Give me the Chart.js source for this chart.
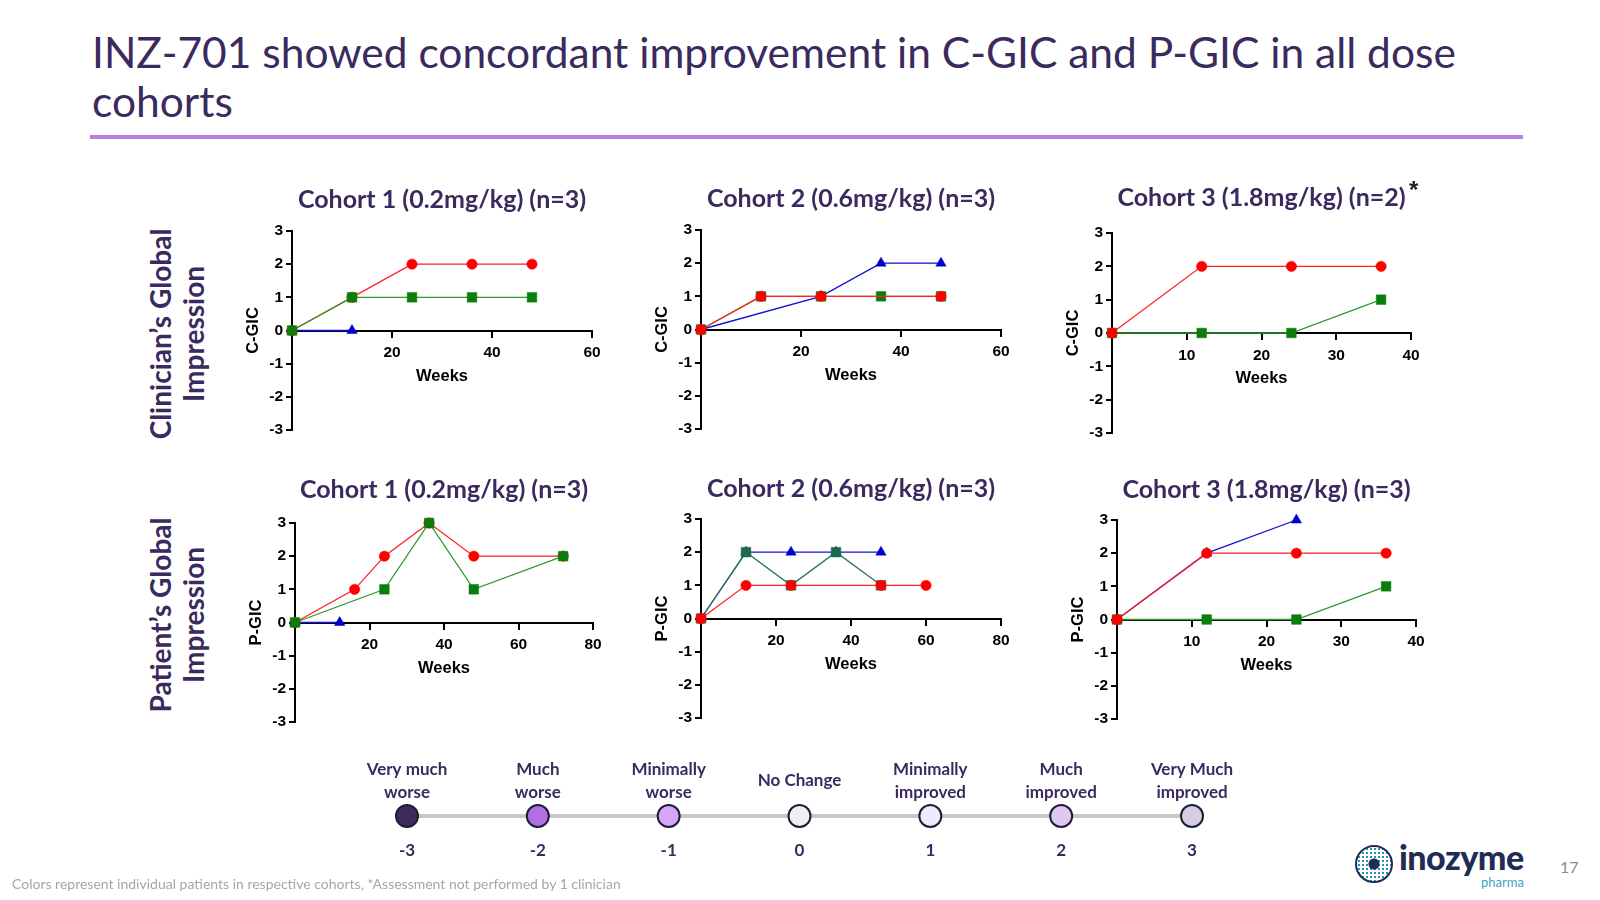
<!DOCTYPE html>
<html>
<head>
<meta charset="utf-8">
<script src="https://cdn.jsdelivr.net/npm/chart.js@4.4.0/dist/chart.umd.min.js"></script>
<style>
html, body { margin: 0; padding: 0; background: #ffffff; }
body { width: 1600px; height: 900px; position: relative; overflow: hidden; font-family: Lato, "Open Sans", sans-serif; }
#mainTitle { position: absolute; left: 92px; top: 27px; font-size: 42.5px; line-height: 49px; color: #3B2A5E; white-space: nowrap; }
#rule { position: absolute; left: 90px; top: 135px; width: 1433px; height: 4px; background: #B77FE2; }
.rowlab { position: absolute; width: 260px; text-align: center; font-weight: bold; font-size: 28px; line-height: 33px; color: #3B2A5E; transform: translate(-50%, -50%) rotate(-90deg); white-space: nowrap; }
canvas { position: absolute; }
#star { position: absolute; left: 1409px; top: 176px; font-size: 24px; font-weight: bold; color: #222; font-family: "Liberation Sans", sans-serif; }
#foot { position: absolute; left: 12px; top: 875px; font-size: 14px; color: #A6A6A6; white-space: nowrap; }
#page { position: absolute; left: 1560px; top: 857px; font-size: 16px; color: #8A8A8A; }
#logoIcon { position: absolute; left: 1355px; top: 845px; width: 38px; height: 38px; border-radius: 50%; border: 2px solid #1F2D55; box-sizing: border-box;
  background: radial-gradient(circle at 50% 50%, #1F2D55 0 5px, transparent 6px), radial-gradient(circle, #2E8FB6 0 1.1px, transparent 1.4px) 0 0 / 4px 4px, #ffffff; }
#logoText { position: absolute; left: 1399px; top: 836px; font-size: 34px; font-weight: 900; color: #1F2D55; letter-spacing: -0.5px; }
#logoSub { position: absolute; left: 1481px; top: 874px; font-size: 13px; color: #3AA6C0; }
</style>
</head>
<body>
<div id="mainTitle">INZ-701 showed concordant improvement in C-GIC and P-GIC in all dose<br>cohorts</div>
<div id="rule"></div>
<div class="rowlab" style="left:177px; top:334px;">Clinician’s Global<br>Impression</div>
<div class="rowlab" style="left:177px; top:615px;">Patient’s Global<br>Impression</div>

<canvas id="c1"></canvas>
<canvas id="c2"></canvas>
<canvas id="c3"></canvas>
<canvas id="c4"></canvas>
<canvas id="c5"></canvas>
<canvas id="c6"></canvas>
<canvas id="c7"></canvas>
<div id="star">*</div>

<div id="foot">Colors represent individual patients in respective cohorts, *Assessment not performed by 1 clinician</div>
<div id="logoIcon"></div>
<div id="logoText">inozyme</div>
<div id="logoSub">pharma</div>
<div id="page">17</div>

<script>
// ---------- DATA ----------
const chartTitles = [
  'Cohort 1 (0.2mg/kg) (n=3)', 'Cohort 2 (0.6mg/kg) (n=3)', 'Cohort 3 (1.8mg/kg) (n=2)',
  'Cohort 1 (0.2mg/kg) (n=3)', 'Cohort 2 (0.6mg/kg) (n=3)', 'Cohort 3 (1.8mg/kg) (n=3)'
];
const yAxisTitles = ['C-GIC', 'C-GIC', 'C-GIC', 'P-GIC', 'P-GIC', 'P-GIC'];
const xAxisTitle = 'Weeks';
const weekAxisMax = [60, 60, 40, 80, 80, 40];
const weekAxisStep = [20, 20, 10, 20, 20, 10];
const scoreTicks = [-3, -2, -1, 0, 1, 2, 3];

// C-GIC, Cohort 1
const cgic1RedWeeks = [0, 12, 24, 36, 48];
const cgic1RedScore = [0, 1, 2, 2, 2];
const cgic1GreenWeeks = [0, 12, 24, 36, 48];
const cgic1GreenScore = [0, 1, 1, 1, 1];
const cgic1BlueWeeks = [0, 12];
const cgic1BlueScore = [0, 0];
// C-GIC, Cohort 2
const cgic2RedWeeks = [0, 12, 24, 48];
const cgic2RedScore = [0, 1, 1, 1];
const cgic2GreenWeeks = [0, 12, 24, 36, 48];
const cgic2GreenScore = [0, 1, 1, 1, 1];
const cgic2BlueWeeks = [0, 24, 36, 48];
const cgic2BlueScore = [0, 1, 2, 2];
// C-GIC, Cohort 3
const cgic3RedWeeks = [0, 12, 24, 36];
const cgic3RedScore = [0, 2, 2, 2];
const cgic3GreenWeeks = [0, 12, 24, 36];
const cgic3GreenScore = [0, 0, 0, 1];
// P-GIC, Cohort 1
const pgic1RedWeeks = [0, 16, 24, 36, 48, 72];
const pgic1RedScore = [0, 1, 2, 3, 2, 2];
const pgic1GreenWeeks = [0, 24, 36, 48, 72];
const pgic1GreenScore = [0, 1, 3, 1, 2];
const pgic1BlueWeeks = [0, 12];
const pgic1BlueScore = [0, 0];
// P-GIC, Cohort 2
const pgic2RedWeeks = [0, 12, 24, 48, 60];
const pgic2RedScore = [0, 1, 1, 1, 1];
const pgic2GreenWeeks = [0, 12, 24, 36, 48];
const pgic2GreenScore = [0, 2, 1, 2, 1];
const pgic2BlueWeeks = [0, 12, 24, 36, 48];
const pgic2BlueScore = [0, 2, 2, 2, 2];
// P-GIC, Cohort 3
const pgic3RedWeeks = [0, 12, 24, 36];
const pgic3RedScore = [0, 2, 2, 2];
const pgic3BlueWeeks = [0, 12, 24];
const pgic3BlueScore = [0, 2, 3];
const pgic3GreenWeeks = [0, 12, 24, 36];
const pgic3GreenScore = [0, 0, 0, 1];

// Rating scale legend
const scaleScores = [-3, -2, -1, 0, 1, 2, 3];
const scaleLabels = [
  ['Very much', 'worse'], ['Much', 'worse'], ['Minimally', 'worse'], 'No Change',
  ['Minimally', 'improved'], ['Much', 'improved'], ['Very Much', 'improved']
];

// ---------- STYLES ----------
const scaleColors = ['#3D2B5E', '#B070E0', '#D8A4F5', '#EFEFEF', '#F3E8FB', '#E2C7F2', '#D7CDE6'];
const TITLE_COLOR = '#3B2A5E';
const AXIS_FONT = 'Liberation Sans';
const markerStyles = {
  red:   { color: '#FF0000', line: '#FF2020', pointStyle: 'circle',   radius: 5.2 },
  green: { color: '#0A7D0A', line: '#2E9A2E', pointStyle: 'rect',     radius: 6.8 },
  teal:  { color: '#1B6B47', line: '#2B7A55', pointStyle: 'rect',     radius: 6.8 },
  blue:  { color: '#0000CC', line: '#1010D0', pointStyle: 'triangle', radius: 6 }
};
// plot-area layout of each panel (left, right, top, bottom, title centre)
const panelBoxes = [
  { L: 292, R: 592, T: 231, B: 430, tc: 200 },
  { L: 701, R: 1001, T: 230, B: 429, tc: 199 },
  { L: 1112, R: 1411, T: 233, B: 433, tc: 198 },
  { L: 295, R: 593, T: 523, B: 722, tc: 490 },
  { L: 701, R: 1001, T: 519, B: 718, tc: 489 },
  { L: 1117, R: 1416, T: 520, B: 719, tc: 490 }
];

Chart.defaults.font.family = AXIS_FONT;

function series(weeks, scores, kind) {
  const s = markerStyles[kind];
  return {
    data: weeks.map((w, i) => ({ x: w, y: scores[i] })),
    showLine: true,
    borderColor: s.line,
    borderWidth: 1.3,
    backgroundColor: s.color,
    pointBackgroundColor: s.color,
    pointBorderColor: s.color,
    pointBorderWidth: 0.5,
    pointStyle: s.pointStyle,
    pointRadius: s.radius,
    pointHoverRadius: s.radius,
    clip: false
  };
}

function buildPanel(idx, datasets) {
  const box = panelBoxes[idx];
  const fs = 25, lh = fs * 1.2;
  const padL = 10, padR = 22, padB = 14, yW = 48;
  const canvasLeft = box.L - yW - padL;
  const canvasTop = Math.round(box.tc - lh / 2 - 8);
  const titlePadTop = box.tc - lh / 2 - canvasTop;
  const titlePadBottom = box.T - (box.tc + lh / 2);
  const width = box.R - box.L + yW + padL + padR;
  const height = box.B + padB - canvasTop;
  const cv = document.getElementById('c' + (idx + 1));
  cv.width = width; cv.height = height;
  cv.style.left = canvasLeft + 'px'; cv.style.top = canvasTop + 'px';
  cv.style.width = width + 'px'; cv.style.height = height + 'px';

  const tickFont = { family: AXIS_FONT, size: 15.5, weight: 'bold', lineHeight: 1.2 };
  return new Chart(cv, {
    type: 'scatter',
    data: { datasets },
    options: {
      responsive: false,
      animation: false,
      events: [],
      layout: { padding: { left: padL, right: padR, top: 0, bottom: padB } },
      plugins: {
        legend: { display: false },
        tooltip: { enabled: false },
        title: {
          display: true, text: chartTitles[idx], fullSize: false, color: TITLE_COLOR,
          font: { family: 'Lato', size: fs, weight: 'bold', lineHeight: 1.2 },
          padding: { top: titlePadTop, bottom: titlePadBottom }
        }
      },
      scales: {
        x: {
          type: 'linear', position: { y: 0 }, min: 0, max: weekAxisMax[idx],
          ticks: { stepSize: weekAxisStep[idx], autoSkip: false, maxRotation: 0, padding: 7, color: '#000', font: tickFont,
                   callback: v => (v === 0 ? '' : v) },
          grid: { drawOnChartArea: false, drawTicks: true, tickLength: 6, color: '#000', lineWidth: 2 },
          border: { display: true, color: '#000', width: 2 },
          title: { display: true, text: xAxisTitle, color: '#000', font: { family: AXIS_FONT, size: 16.5, weight: 'bold', lineHeight: 1.2 }, padding: { top: -3, bottom: 0 } }
        },
        y: {
          type: 'linear', position: 'left', min: scoreTicks[0], max: scoreTicks[scoreTicks.length - 1],
          afterFit: s => { s.width = yW; },
          afterBuildTicks: s => { s.ticks = scoreTicks.map(v => ({ value: v })); },
          ticks: { stepSize: 1, padding: 3, color: '#000', font: tickFont },
          grid: { drawOnChartArea: false, drawTicks: true, tickLength: 6, color: '#000', lineWidth: 2 },
          border: { display: true, color: '#000', width: 2 },
          title: { display: true, text: yAxisTitles[idx], color: '#000', font: { family: AXIS_FONT, size: 16.5, weight: 'bold', lineHeight: 1.2 }, padding: { top: 0, bottom: 0 } }
        }
      }
    }
  });
}

// dataset order: first listed is drawn on top
buildPanel(0, [
  series(cgic1GreenWeeks, cgic1GreenScore, 'green'),
  series(cgic1RedWeeks, cgic1RedScore, 'red'),
  series(cgic1BlueWeeks, cgic1BlueScore, 'blue')
]);
buildPanel(1, [
  series(cgic2RedWeeks, cgic2RedScore, 'red'),
  series(cgic2GreenWeeks, cgic2GreenScore, 'green'),
  series(cgic2BlueWeeks, cgic2BlueScore, 'blue')
]);
buildPanel(2, [
  series(cgic3RedWeeks, cgic3RedScore, 'red'),
  series(cgic3GreenWeeks, cgic3GreenScore, 'green')
]);
buildPanel(3, [
  series(pgic1GreenWeeks, pgic1GreenScore, 'green'),
  series(pgic1RedWeeks, pgic1RedScore, 'red'),
  series(pgic1BlueWeeks, pgic1BlueScore, 'blue')
]);
buildPanel(4, [
  series(pgic2RedWeeks, pgic2RedScore, 'red'),
  series(pgic2GreenWeeks, pgic2GreenScore, 'teal'),
  series(pgic2BlueWeeks, pgic2BlueScore, 'blue')
]);
buildPanel(5, [
  series(pgic3RedWeeks, pgic3RedScore, 'red'),
  series(pgic3BlueWeeks, pgic3BlueScore, 'blue'),
  series(pgic3GreenWeeks, pgic3GreenScore, 'green')
]);

// ---------- Rating scale ----------
(function () {
  const cv = document.getElementById('c7');
  const left = 300, top = 749, width = 1000, height = 144;
  cv.width = width; cv.height = height;
  cv.style.left = left + 'px'; cv.style.top = top + 'px';
  cv.style.width = width + 'px'; cv.style.height = height + 'px';
  const lblFont = { family: 'Lato', size: 17, weight: 'bold', lineHeight: 1.41 };
  new Chart(cv, {
    type: 'scatter',
    data: {
      datasets: [{
        data: scaleScores.map(v => ({ x: v, y: 0 })),
        showLine: true,
        borderColor: '#C8C8C8',
        borderWidth: 4,
        pointRadius: 11,
        pointHoverRadius: 11,
        pointBackgroundColor: scaleColors,
        pointBorderColor: '#1C1F33',
        pointBorderWidth: 2,
        clip: false
      }]
    },
    options: {
      responsive: false,
      animation: false,
      events: [],
      layout: { padding: { left: 107, right: 108, top: 0, bottom: 10 } },
      plugins: { legend: { display: false }, tooltip: { enabled: false } },
      scales: {
        x: {
          type: 'linear', position: 'bottom', min: -3, max: 3,
          afterBuildTicks: s => { s.ticks = scaleScores.map(v => ({ value: v })); },
          ticks: { padding: 23, color: TITLE_COLOR, font: lblFont, autoSkip: false, maxRotation: 0,
                   callback: v => String(v) },
          grid: { display: false, drawTicks: false },
          border: { display: false }
        },
        xTop: {
          type: 'linear', position: 'top', min: -3, max: 3,
          afterBuildTicks: s => { s.ticks = scaleScores.map(v => ({ value: v })); },
          ticks: { padding: 23, crossAlign: 'center', color: TITLE_COLOR, font: lblFont, autoSkip: false, maxRotation: 0,
                   callback: v => scaleLabels[scaleScores.indexOf(v)] },
          grid: { display: false, drawTicks: false },
          border: { display: false }
        },
        y: { display: false, min: -1, max: 1 }
      }
    }
  });
})();
</script>
</body>
</html>
